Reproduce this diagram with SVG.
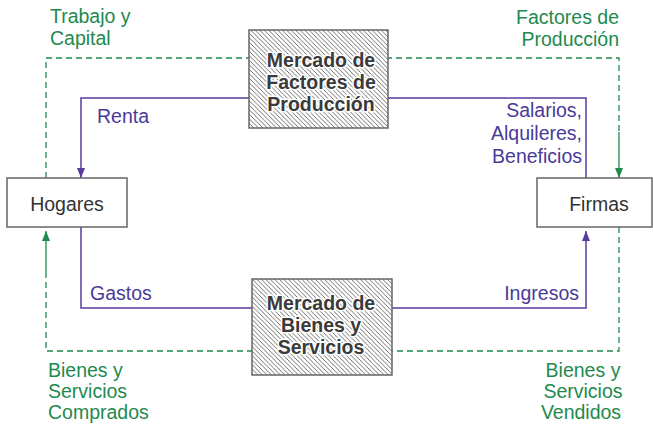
<svg xmlns="http://www.w3.org/2000/svg" width="653" height="424" viewBox="0 0 653 424">
<style>
  .node { fill: #fff; stroke: #666; stroke-width: 1.5; }
  .lbl { font-family: "Liberation Sans", Arial, sans-serif; font-size: 19.5px; }
  .nlbl { fill: #333; }
  .g { fill: #1e8a4e; }
  .p { fill: #4a3a99; }
  .mk { font-family: "Liberation Sans", Arial, sans-serif; font-size: 19.5px; font-weight: bold; fill: #3a3a3a; stroke: #fff; stroke-width: 3; paint-order: stroke; stroke-linejoin: round; text-anchor: middle; }
  .gl { fill: none; stroke: #1e8a4e; stroke-width: 1.3; }
  .gd { stroke-dasharray: 6 4; }
  .pl { fill: none; stroke: #5a3aa0; stroke-width: 1.5; }
</style>
<defs>
  <pattern id="hatch" patternUnits="userSpaceOnUse" width="4.5" height="4.5">
    <rect width="4.5" height="4.5" fill="#fff"/>
    <path d="M-1,-1 L5.5,5.5 M-1,3.5 L1,5.5 M3.5,-1 L5.5,1" stroke="#4a4a4a" stroke-width="0.8"/>
  </pattern>
  <marker id="ag" viewBox="0 0 10 8" refX="10" refY="4" markerWidth="10" markerHeight="8" markerUnits="userSpaceOnUse" orient="auto">
    <path d="M0,0 L10,4 L0,8 z" fill="#1e8a4e"/>
  </marker>
  <marker id="ap" viewBox="0 0 10 8" refX="10" refY="4" markerWidth="10" markerHeight="8" markerUnits="userSpaceOnUse" orient="auto">
    <path d="M0,0 L10,4 L0,8 z" fill="#5a3aa0"/>
  </marker>
</defs>

<g id="connectors">
  <path class="gl gd" d="M46,178 L46,58 L619,58 L619,132"/>
  <path class="gl" d="M619,132 L619,178" marker-end="url(#ag)"/>
  <path class="gl gd" d="M619,227 L619,351 L46,351 L46,274"/>
  <path class="gl" d="M46,274 L46,231" marker-end="url(#ag)"/>
  <path class="pl" d="M586,178 L586,98 L81,98 L81,178" marker-end="url(#ap)"/>
  <path class="pl" d="M81,227 L81,308 L586,308 L586,231" marker-end="url(#ap)"/>
</g>

<g id="labels">
  <text class="lbl g" x="50" y="23">Trabajo y</text>
  <text class="lbl g" x="50" y="45">Capital</text>
  <text class="lbl g" x="619" y="24" text-anchor="end">Factores de</text>
  <text class="lbl g" x="619" y="46" text-anchor="end">Producción</text>
  <text class="lbl p" x="97" y="123">Renta</text>
  <text class="lbl p" x="582" y="117" text-anchor="end">Salarios,</text>
  <text class="lbl p" x="582" y="140" text-anchor="end">Alquileres,</text>
  <text class="lbl p" x="582" y="163" text-anchor="end">Beneficios</text>
  <text class="lbl p" x="90" y="300">Gastos</text>
  <text class="lbl p" x="579" y="300" text-anchor="end">Ingresos</text>
  <text class="lbl g" x="48" y="377">Bienes y</text>
  <text class="lbl g" x="48" y="398">Servicios</text>
  <text class="lbl g" x="48" y="419">Comprados</text>
  <text class="lbl g" x="583" y="377" text-anchor="middle">Bienes y</text>
  <text class="lbl g" x="583" y="398" text-anchor="middle">Servicios</text>
  <text class="lbl g" x="581" y="419" text-anchor="middle">Vendidos</text>
</g>

<g id="hogares">
  <rect class="node" x="7" y="178" width="120" height="49"/>
  <text class="lbl nlbl" x="67" y="211" text-anchor="middle">Hogares</text>
</g>

<g id="firmas">
  <rect class="node" x="537" y="178" width="115" height="49"/>
  <text class="lbl nlbl" x="599" y="211" text-anchor="middle">Firmas</text>
</g>

<g id="mercado-factores">
  <rect x="249" y="30" width="139" height="98" fill="url(#hatch)" stroke="#666" stroke-width="1.5"/>
  <text class="mk" x="321" y="67">Mercado de</text>
  <text class="mk" x="321" y="89">Factores de</text>
  <text class="mk" x="321" y="111">Producción</text>
</g>

<g id="mercado-bienes">
  <rect x="252" y="279" width="140" height="96" fill="url(#hatch)" stroke="#666" stroke-width="1.5"/>
  <text class="mk" x="321" y="310">Mercado de</text>
  <text class="mk" x="321" y="332">Bienes y</text>
  <text class="mk" x="321" y="354">Servicios</text>
</g>
</svg>
